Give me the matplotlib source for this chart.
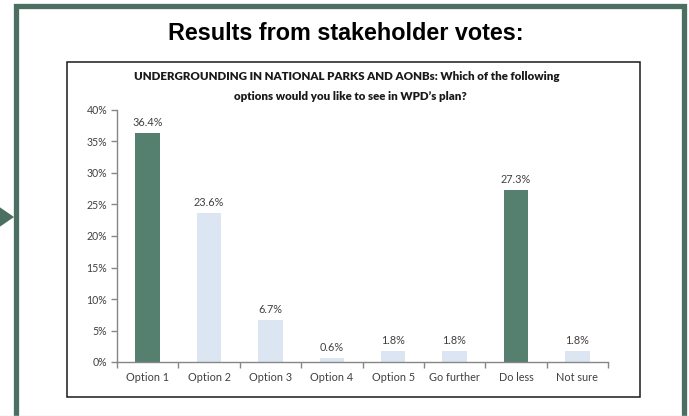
import matplotlib.pyplot as plt
import matplotlib.patches as mpatches
import matplotlib.lines as mlines
import numpy as np

plt.rcParams['font.family'] = ['Lato', 'DejaVu Sans']

# data
categories = ['Option 1', 'Option 2', 'Option 3', 'Option 4', 'Option 5',
              'Go further', 'Do less', 'Not sure']
votes = [36.4, 23.6, 6.7, 0.6, 1.8, 1.8, 27.3, 1.8]
highlight = [True, False, False, False, False, False, True, False]
yticks = [0, 5, 10, 15, 20, 25, 30, 35, 40]

W, H = 689, 416
green = '#557f6f'
light = '#dce6f2'
frame_col = '#4b6f61'
axis_col = '#868686'
text_col = '#404040'

fig = plt.figure(figsize=(W / 100, H / 100), dpi=100)

def fx(x):
    return x / W

def fy(y):
    return 1 - y / H

# slide frame
fig.patches.append(mpatches.Rectangle((fx(15.5), fy(440)), fx(684 - 15.5), (440 - 5.5) / H,
                                      transform=fig.transFigure, fill=False,
                                      edgecolor=frame_col, linewidth=3.8))
fig.patches.append(mpatches.Polygon([(fx(-2), fy(206)), (fx(14), fy(217)), (fx(-2), fy(228))],
                                    closed=True, transform=fig.transFigure,
                                    facecolor=frame_col, edgecolor='none'))
fig.lines.append(mlines.Line2D([0, 1], [fy(415.5), fy(415.5)], transform=fig.transFigure,
                               color='#e4e4e4', linewidth=1))

fig.text(fx(346), fy(33), 'Results from stakeholder votes:', ha='center', va='center',
         fontsize=16.8, fontweight='bold', family=['Liberation Sans', 'DejaVu Sans'])

# chart box
fig.patches.append(mpatches.Rectangle((fx(67), fy(397)), fx(640 - 67), (397 - 62) / H,
                                      transform=fig.transFigure, fill=False,
                                      edgecolor='#1a1a1a', linewidth=1.1))
fig.text(fx(347), fy(77), 'UNDERGROUNDING IN NATIONAL PARKS AND AONBs: Which of the following',
         ha='center', va='center', fontsize=8.3, fontweight='heavy', color='#1a1a1a')
fig.text(fx(350), fy(97), 'options would you like to see in WPD\u2019s plan?',
         ha='center', va='center', fontsize=8.3, fontweight='heavy', color='#1a1a1a')

ax = fig.add_axes([fx(117), fy(362), fx(608 - 117), (362 - 110) / H])
x = np.arange(len(categories))
colors = [green if h else light for h in highlight]
bars = ax.bar(x, votes, width=0.4, color=colors)
for xi, v in zip(x, votes):
    ax.annotate(f'{v:.1f}%', (xi, v), xytext=(0, 3.5), textcoords='offset points',
                ha='center', va='bottom', fontsize=7.8, color=text_col)

ax.set_xlim(-0.5, len(categories) - 0.5)
ax.set_ylim(0, 40)
ax.set_yticks(yticks)
ax.set_yticklabels([f'{t}%' for t in yticks])
ax.set_xticks(x)
ax.set_xticklabels(categories)
ax.set_xticks(np.arange(len(categories) + 1) - 0.5, minor=True)
ax.tick_params(axis='x', which='major', length=0, pad=7, labelsize=7.8, labelcolor=text_col)
ax.tick_params(axis='x', which='minor', length=4, color=axis_col, width=1)
ax.tick_params(axis='y', length=4, color=axis_col, width=1, pad=3, labelsize=7.6,
               labelcolor=text_col)
for s in ['top', 'right']:
    ax.spines[s].set_visible(False)
for s in ['left', 'bottom']:
    ax.spines[s].set_color(axis_col)
    ax.spines[s].set_linewidth(1)

fig.savefig('out.png', dpi=100)
